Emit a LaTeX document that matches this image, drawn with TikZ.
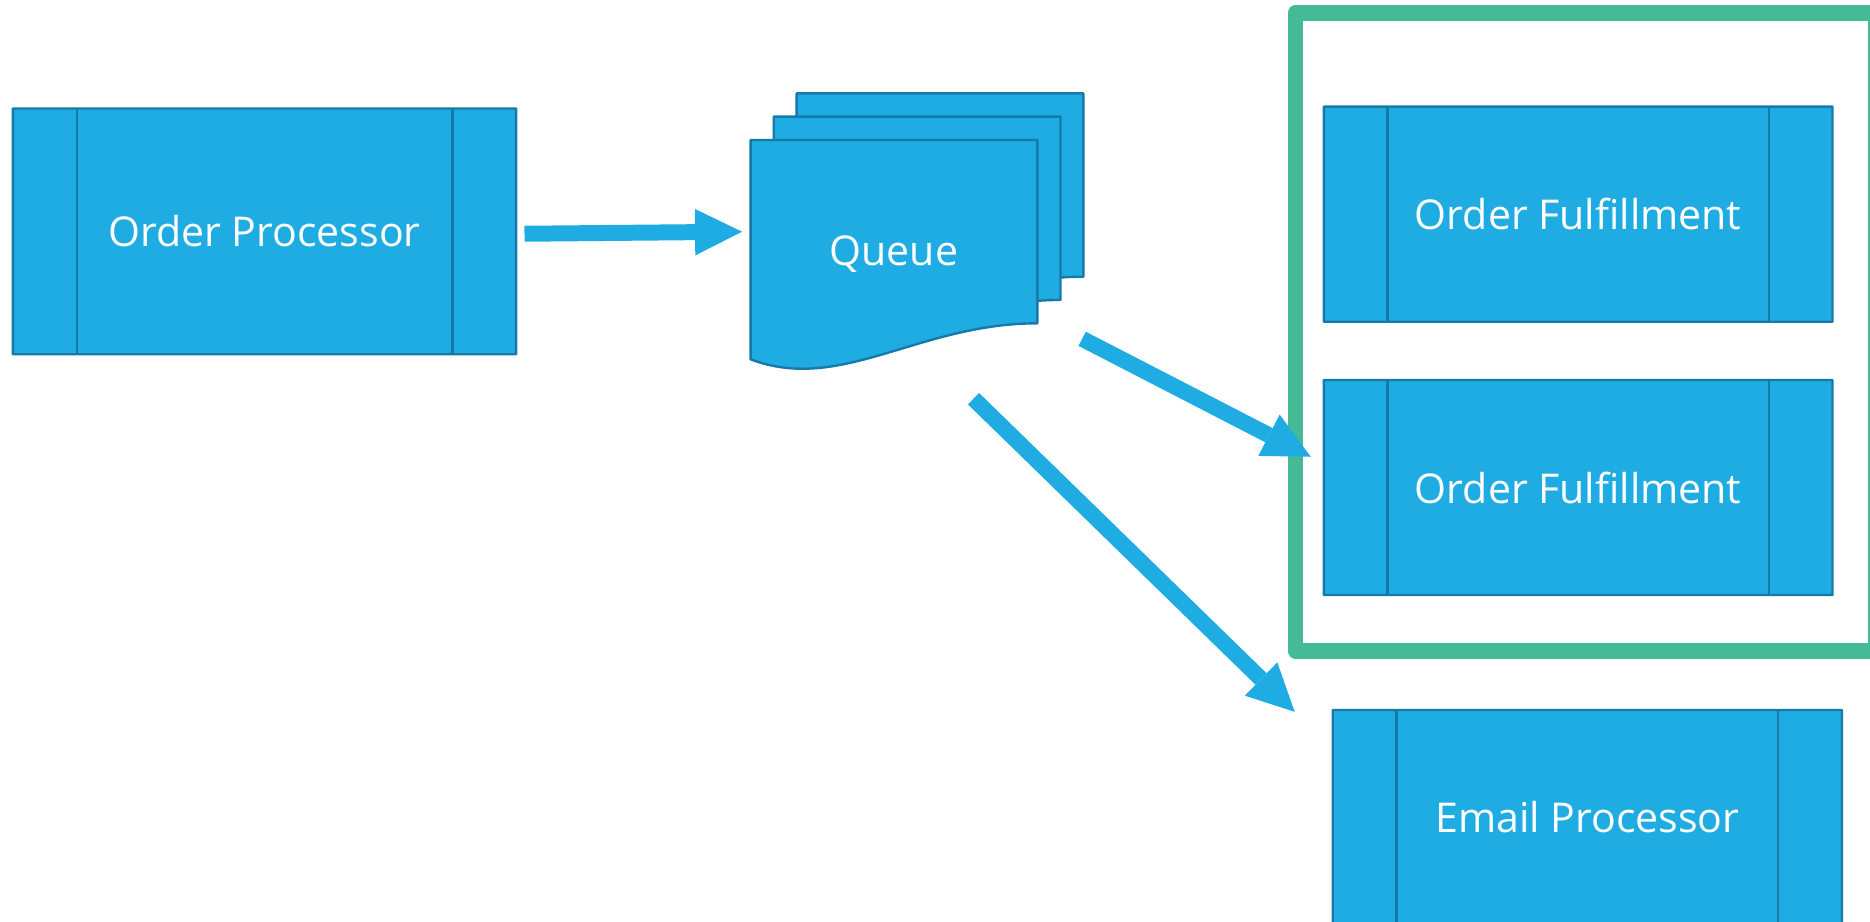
\documentclass[tikz,border=0pt]{standalone}
\usepackage{fontspec}
\setmainfont{Open Sans}
\usetikzlibrary{arrows.meta,calc}
\definecolor{pfill}{RGB}{30,172,226}
\definecolor{pline}{RGB}{22,122,168}
\definecolor{cgreen}{RGB}{68,186,150}
\tikzset{
  proc/.style={draw=pline, fill=pfill, line width=0.1cm, rounded corners=0.5pt,
    inner sep=0pt, outer sep=0pt, text=white, font=\fontsize{49}{58}\selectfont,
    path picture={
      \draw[pline, line width=0.1cm]
        ([xshift=2.675cm]path picture bounding box.north west) --
        ([xshift=2.675cm]path picture bounding box.south west);
      \draw[pline, line width=0.1cm]
        ([xshift=-2.675cm]path picture bounding box.north east) --
        ([xshift=-2.675cm]path picture bounding box.south east);
    }},
  flowarrow/.style={draw=pfill, line width=0.67cm,
    -{Triangle[length=1.97cm,width=1.95cm,line width=0pt]}},
  pagestyle/.style={draw=pline, fill=pfill, line width=0.1cm, line join=round},
  groupbox/.style={draw=cgreen, line width=0.66cm, line join=round},
  helper/.style={draw=none, fill=none, inner sep=0pt, outer sep=0pt},
  qlabel/.style={text=white, font=\fontsize{49}{58}\selectfont, inner sep=0pt, anchor=base}
}
\begin{document}
\begin{tikzpicture}[x=0.05cm, y=-0.05cm]
  \useasboundingbox (0,0) rectangle (1568,773);
  \clip (0,0) rectangle (1568,773);

  % group container
  \draw[groupbox] (1086.2,10.75) rectangle (1573,545.7);

  % processes
  \node[proc, minimum width=21.1cm, minimum height=10.3cm] (op) at (221.8,194) {Order Processor};
  \node[proc, minimum width=21.325cm, minimum height=9.015cm] (of1) at (1323.3,179.6) {Order Fulfillment};
  \node[proc, minimum width=21.325cm, minimum height=9.015cm] (of2) at (1323.3,408.8) {Order Fulfillment};
  \node[proc, minimum width=21.35cm, minimum height=9.015cm] (email) at (1331,685.5) {Email Processor};

  % queue (stacked documents)
  \foreach \dx/\dy in {668/78.3, 648.8/97.8, 629.4/117.4}
    \draw[pagestyle, shift={(\dx,\dy)}] (0,0) -- (240.4,0) -- (240.4,153.7)
      .. controls (140.6,153.7) and (75.6,212.6) .. (0,183.9) -- cycle;
  \node[helper, minimum width=12.02cm, minimum height=9.58cm] (queue) at (749.6,213.2) {};
  \node[qlabel] (qtext) at (749.6,223) {Queue};

  % connectors
  \draw[flowarrow] ($(op.east)+(7,2)$) -- ($(queue.west)+(-7.2,-18.9)$);
  \draw[flowarrow] ($(queue.south east)+(37.6,-24.9)$) -- ($(of2.west)+(-11,-25.8)$);
  \draw[flowarrow] ($(queue.south)+(66.7,25.3)$) -- ($(email.north west)+(-31.9,1.5)$);
\end{tikzpicture}
\end{document}
